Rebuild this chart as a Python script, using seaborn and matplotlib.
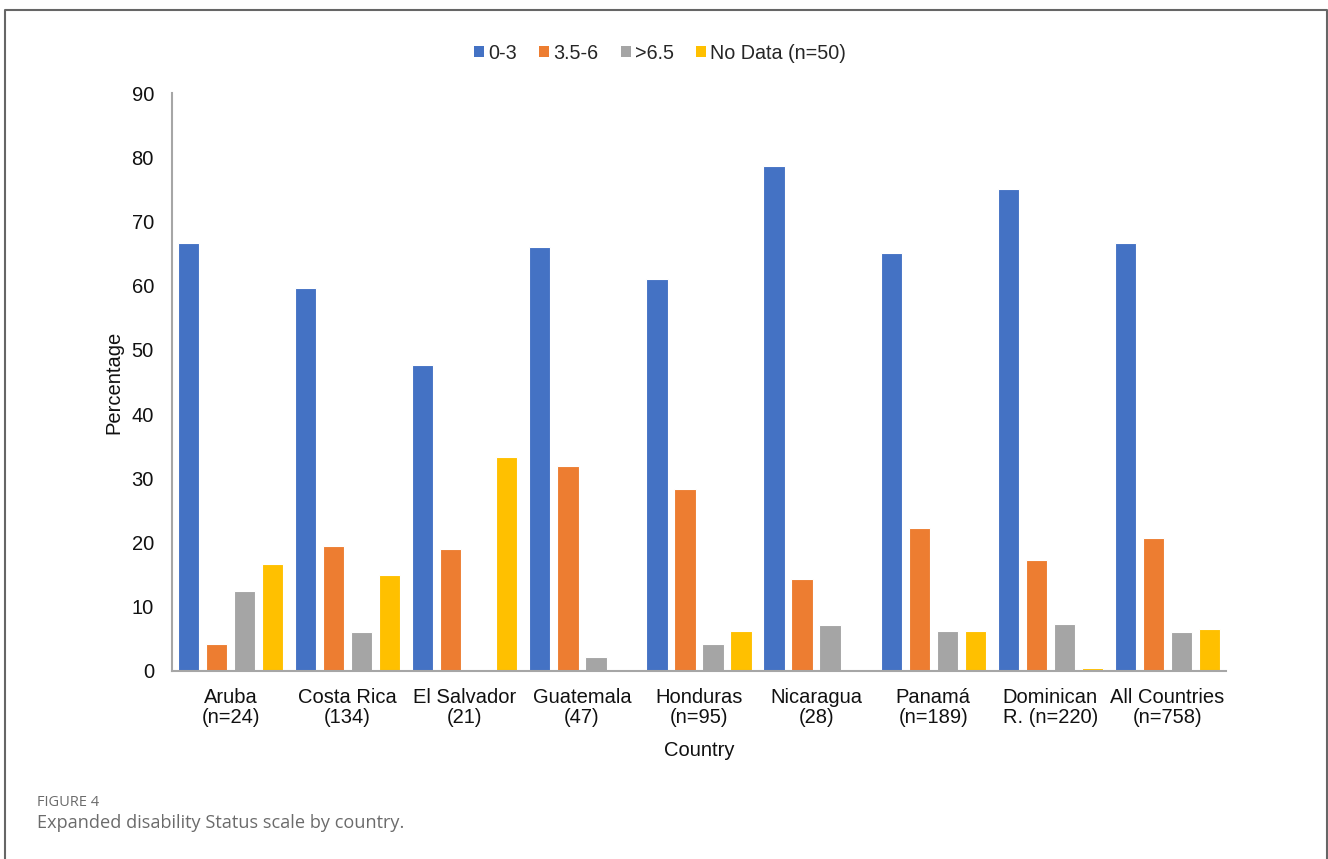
import pandas as pd
import matplotlib.pyplot as plt
import seaborn as sns
from matplotlib.patches import Patch

# values (percent of patients per EDSS band)
countries = ['Aruba\n(n=24)', 'Costa Rica\n(134)', 'El Salvador\n(21)', 'Guatemala\n(47)',
             'Honduras\n(n=95)', 'Nicaragua\n(28)', 'Panamá\n(n=189)', 'Dominican\nR. (n=220)',
             'All Countries\n(n=758)']
bands = ['0-3', '3.5-6', '>6.5', 'No Data (n=50)']
edss_0_3 = [66.7, 59.7, 47.6, 66.0, 61.1, 78.6, 65.1, 75.0, 66.6]
edss_35_6 = [4.2, 19.4, 19.0, 31.9, 28.4, 14.3, 22.2, 17.3, 20.7]
edss_65 = [12.5, 6.0, 0.0, 2.1, 4.2, 7.1, 6.3, 7.3, 6.1]
no_data = [16.7, 14.9, 33.3, 0.0, 6.3, 0.0, 6.3, 0.5, 6.6]
colors = ['#4472C4', '#ED7D31', '#A5A5A5', '#FFC000']

rows = []
for band, vals in zip(bands, [edss_0_3, edss_35_6, edss_65, no_data]):
    for c, v in zip(countries, vals):
        rows.append({'Country': c, 'band': band, 'Percentage': v})
df = pd.DataFrame(rows)

sns.set_style('white')
plt.rcParams['font.family'] = ['Liberation Sans', 'DejaVu Sans']

fig = plt.figure(figsize=(13.28, 8.59), dpi=100)
ax = fig.add_axes([0.1295, 0.2189, 0.7937, 0.6728])

sns.barplot(data=df, x='Country', y='Percentage', hue='band', hue_order=bands,
            palette=colors, saturation=1, width=0.957, gap=0.24, edgecolor='white',
            linewidth=0.8, ax=ax, legend=False)

ax.set_ylim(0, 90)
ax.set_xlim(-0.5, len(countries) - 0.5)
ax.set_yticks(range(0, 91, 10))
ax.tick_params(axis='both', length=0, labelsize=14.5, colors='#111111')
ax.tick_params(axis='y', pad=13)
ax.tick_params(axis='x', pad=12)
for lab in ax.get_xticklabels():
    lab.set_linespacing(1.1)
ax.set_xlabel('Country', fontsize=14.5, color='#111111', labelpad=10)
ax.set_ylabel('Percentage', fontsize=14.5, color='#111111', labelpad=6)

sns.despine(ax=ax)
for side in ['left', 'bottom']:
    ax.spines[side].set_color('#a6a6a6')
    ax.spines[side].set_linewidth(1.5)

handles = [Patch(facecolor=c, edgecolor='none') for c in colors]
fig.legend(handles, bands, loc='center', bbox_to_anchor=(0.497, 0.938), ncol=4,
           frameon=False, fontsize=14.2, handlelength=0.5, handleheight=0.5,
           handletextpad=0.2, columnspacing=1.15)

# caption under the chart
fig.text(0.028, 0.066, 'FIGURE 4', fontsize=10.5, color='#6b6b6b',
         family=['Open Sans', 'DejaVu Sans'], va='center')
fig.text(0.028, 0.042, 'Expanded disability Status scale by country.', fontsize=13.1,
         color='#6b6b6b', family=['Open Sans', 'DejaVu Sans'], va='center')

# page frame (open at the bottom)
fig.add_artist(plt.Line2D([0.0035, 0.0035, 0.9993, 0.9993], [0.0, 0.988, 0.988, 0.0],
                          transform=fig.transFigure, color='#666666', linewidth=1.5))

fig.savefig('out.png', dpi=100)
